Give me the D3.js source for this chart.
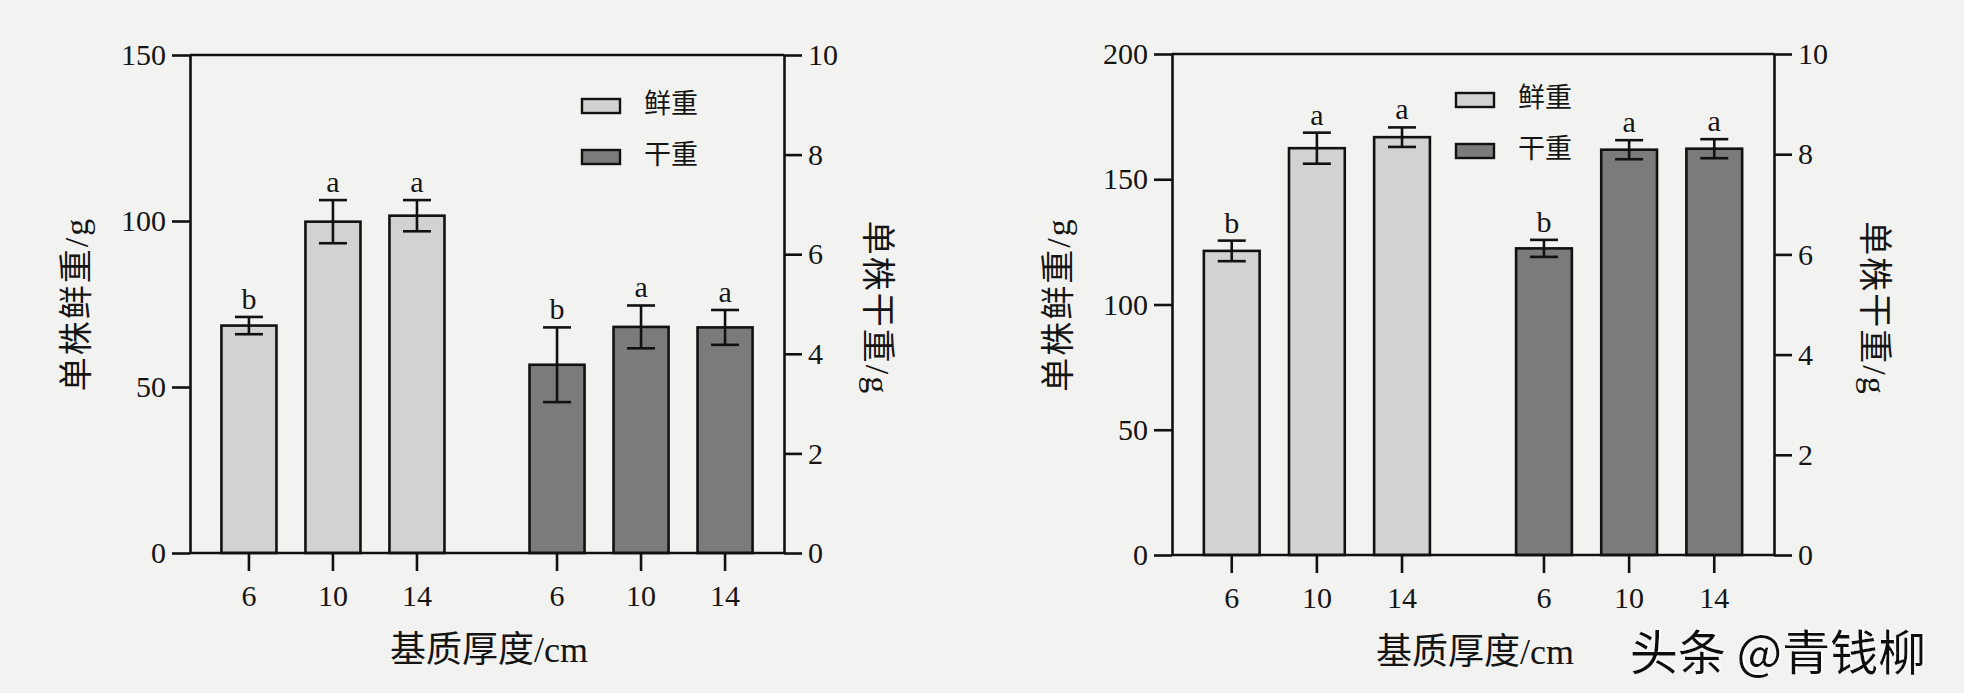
<!DOCTYPE html>
<html>
<head>
<meta charset="utf-8">
<script src="https://cdn.jsdelivr.net/npm/d3@7"></script>
<style>
  html, body { margin: 0; padding: 0; background: #f2f2f0; }
  svg text { fill: #151515; }
</style>
</head>
<body>
<div id="chart"></div>
<script>
// data
const thickness = ['6', '10', '14'];
const groups = ['鲜重', '干重'];

const freshA = [68.5, 99.8, 101.6];
const freshErrA = [2.6, 6.5, 4.7];
const dryA = [3.78, 4.54, 4.53];
const dryErrA = [0.75, 0.43, 0.35];
const lettersFreshA = ['b', 'a', 'a'];
const lettersDryA = ['b', 'a', 'a'];

const freshB = [121.4, 162.4, 166.8];
const freshErrB = [4.1, 6.2, 3.9];
const dryB = [6.12, 8.09, 8.11];
const dryErrB = [0.17, 0.19, 0.19];
const lettersFreshB = ['b', 'a', 'a'];
const lettersDryB = ['b', 'a', 'a'];

const leftTicksA = [0, 50, 100, 150];
const leftTicksB = [0, 50, 100, 150, 200];
const rightTicks = [0, 2, 4, 6, 8, 10];

const W = 1964, H = 693;
const serif = `"Liberation Serif", "Noto Sans CJK SC", serif`;
const colors = { '鲜重': '#d2d2d2', '干重': '#7b7b7b' };

const svg = d3.select('#chart').append('svg')
    .attr('width', W).attr('height', H);

svg.append('rect').attr('width', W).attr('height', H).attr('fill', '#f2f2f0');

function drawPanel(p) {
    const g = svg.append('g');

    const yL = d3.scaleLinear().domain([0, p.leftMax]).range([p.bottom, p.top]);
    const yR = d3.scaleLinear().domain([0, 10]).range([p.bottom, p.top]);

    const outer = d3.scaleBand().domain(groups).range([p.left, p.right])
        .paddingInner(0.276).paddingOuter(0.102);
    const inner = d3.scaleBand().domain(thickness).range([0, outer.bandwidth()])
        .paddingInner(0.345).paddingOuter(0);

    const rows = [];
    thickness.forEach((t, i) => {
        rows.push({ grp: '鲜重', t, v: p.fresh[i], e: p.freshErr[i], l: p.lettersFresh[i], y: yL });
    });
    thickness.forEach((t, i) => {
        rows.push({ grp: '干重', t, v: p.dry[i], e: p.dryErr[i], l: p.lettersDry[i], y: yR });
    });
    const cx = d => outer(d.grp) + inner(d.t) + inner.bandwidth() / 2;

    // bars
    g.selectAll('.bar').data(rows).enter().append('rect')
        .attr('class', 'bar')
        .attr('x', d => outer(d.grp) + inner(d.t))
        .attr('y', d => d.y(d.v))
        .attr('width', inner.bandwidth())
        .attr('height', d => p.bottom - d.y(d.v))
        .attr('fill', d => colors[d.grp])
        .attr('stroke', '#111').attr('stroke-width', 2.6);

    // error bars
    const cap = 14;
    const eb = g.selectAll('.err').data(rows).enter().append('g')
        .attr('stroke', '#111').attr('stroke-width', 2.6);
    eb.append('line')
        .attr('x1', cx).attr('x2', cx)
        .attr('y1', d => d.y(d.v - d.e)).attr('y2', d => d.y(d.v + d.e));
    eb.append('line')
        .attr('x1', d => cx(d) - cap).attr('x2', d => cx(d) + cap)
        .attr('y1', d => d.y(d.v + d.e)).attr('y2', d => d.y(d.v + d.e));
    eb.append('line')
        .attr('x1', d => cx(d) - cap).attr('x2', d => cx(d) + cap)
        .attr('y1', d => d.y(d.v - d.e)).attr('y2', d => d.y(d.v - d.e));

    // significance letters
    g.selectAll('.letter').data(rows).enter().append('text')
        .attr('x', cx)
        .attr('y', d => d.y(d.v + d.e) - 8)
        .attr('text-anchor', 'middle')
        .style('font-family', serif).style('font-size', '30px')
        .text(d => d.l);

    // axes
    const axisStyle = sel => {
        sel.selectAll('path, line').attr('stroke', '#111').attr('stroke-width', 2.6);
        sel.selectAll('text').style('font-family', serif).style('font-size', '30px').attr('fill', '#151515');
    };
    g.append('g').attr('transform', `translate(${p.left},0)`)
        .call(d3.axisLeft(yL).tickValues(p.leftTicks).tickSize(18).tickSizeOuter(0).tickPadding(6))
        .call(axisStyle);
    g.append('g').attr('transform', `translate(${p.right},0)`)
        .call(d3.axisRight(yR).tickValues(rightTicks).tickSize(18).tickSizeOuter(0).tickPadding(6))
        .call(axisStyle);

    // bottom axis with ticks at bar centres
    const xb = g.append('g').attr('transform', `translate(0,${p.bottom})`);
    xb.append('line').attr('x1', p.left).attr('x2', p.right)
        .attr('stroke', '#111').attr('stroke-width', 2.6);
    xb.selectAll('.xt').data(rows).enter().append('line')
        .attr('x1', cx).attr('x2', cx).attr('y1', 0).attr('y2', 18)
        .attr('stroke', '#111').attr('stroke-width', 2.6);
    xb.selectAll('.xl').data(rows).enter().append('text')
        .attr('x', cx).attr('y', 53)
        .attr('text-anchor', 'middle')
        .style('font-family', serif).style('font-size', '30px')
        .text(d => d.t);

    // top border
    g.append('line').attr('x1', p.left).attr('x2', p.right)
        .attr('y1', p.top).attr('y2', p.top)
        .attr('stroke', '#111').attr('stroke-width', 2.6);

    // axis titles
    g.append('text')
        .attr('transform', `translate(${p.left - 110},${(p.top + p.bottom) / 2}) rotate(-90)`)
        .attr('text-anchor', 'middle').attr('dominant-baseline', 'middle')
        .style('font-family', serif).style('font-size', '34px').style('letter-spacing', '2px')
        .text('单株鲜重/g');
    g.append('text')
        .attr('transform', `translate(${p.right + p.rightTitleDx},${(p.top + p.bottom) / 2 + 4}) rotate(90)`)
        .attr('text-anchor', 'middle').attr('dominant-baseline', 'middle')
        .style('font-family', serif).style('font-size', '34px').style('letter-spacing', '2px')
        .text('单株干重/g');
    g.append('text')
        .attr('x', (p.left + p.right) / 2 + 2).attr('y', p.bottom + 109)
        .attr('text-anchor', 'middle')
        .style('font-family', serif).style('font-size', '36px')
        .text('基质厚度/cm');

    // legend
    const lg = g.append('g').attr('transform', `translate(${p.legendX},${p.legendY})`);
    groups.forEach((k, i) => {
        lg.append('rect').attr('x', 0).attr('y', i * 51)
            .attr('width', 38).attr('height', 14)
            .attr('fill', colors[k]).attr('stroke', '#111').attr('stroke-width', 2.4);
        lg.append('text').attr('x', 62).attr('y', i * 51 + 8)
            .attr('dominant-baseline', 'middle')
            .style('font-family', serif).style('font-size', '27px')
            .text(k);
    });
}

drawPanel({
    left: 190, right: 784, top: 55, bottom: 553,
    leftMax: 150, leftTicks: leftTicksA,
    fresh: freshA, freshErr: freshErrA, dry: dryA, dryErr: dryErrA,
    lettersFresh: lettersFreshA, lettersDry: lettersDryA,
    legendX: 582, legendY: 99, rightTitleDx: 90
});

drawPanel({
    left: 1172, right: 1774, top: 54, bottom: 555,
    leftMax: 200, leftTicks: leftTicksB,
    fresh: freshB, freshErr: freshErrB, dry: dryB, dryErr: dryErrB,
    lettersFresh: lettersFreshB, lettersDry: lettersDryB,
    legendX: 1456, legendY: 93, rightTitleDx: 97
});

// watermark
svg.append('defs').append('filter').attr('id', 'emboss')
    .html('<feDropShadow dx="2" dy="-1" stdDeviation="0.4" flood-color="#ffffff" flood-opacity="0.9"/>');
svg.append('text')
    .attr('x', 1630).attr('y', 670)
    .attr('filter', 'url(#emboss)')
    .style('font-family', '"Noto Sans CJK SC", sans-serif')
    .style('font-size', '48px').style('font-weight', 400)
    .style('fill', '#111')
    .text('头条 @青钱柳');
</script>
</body>
</html>
